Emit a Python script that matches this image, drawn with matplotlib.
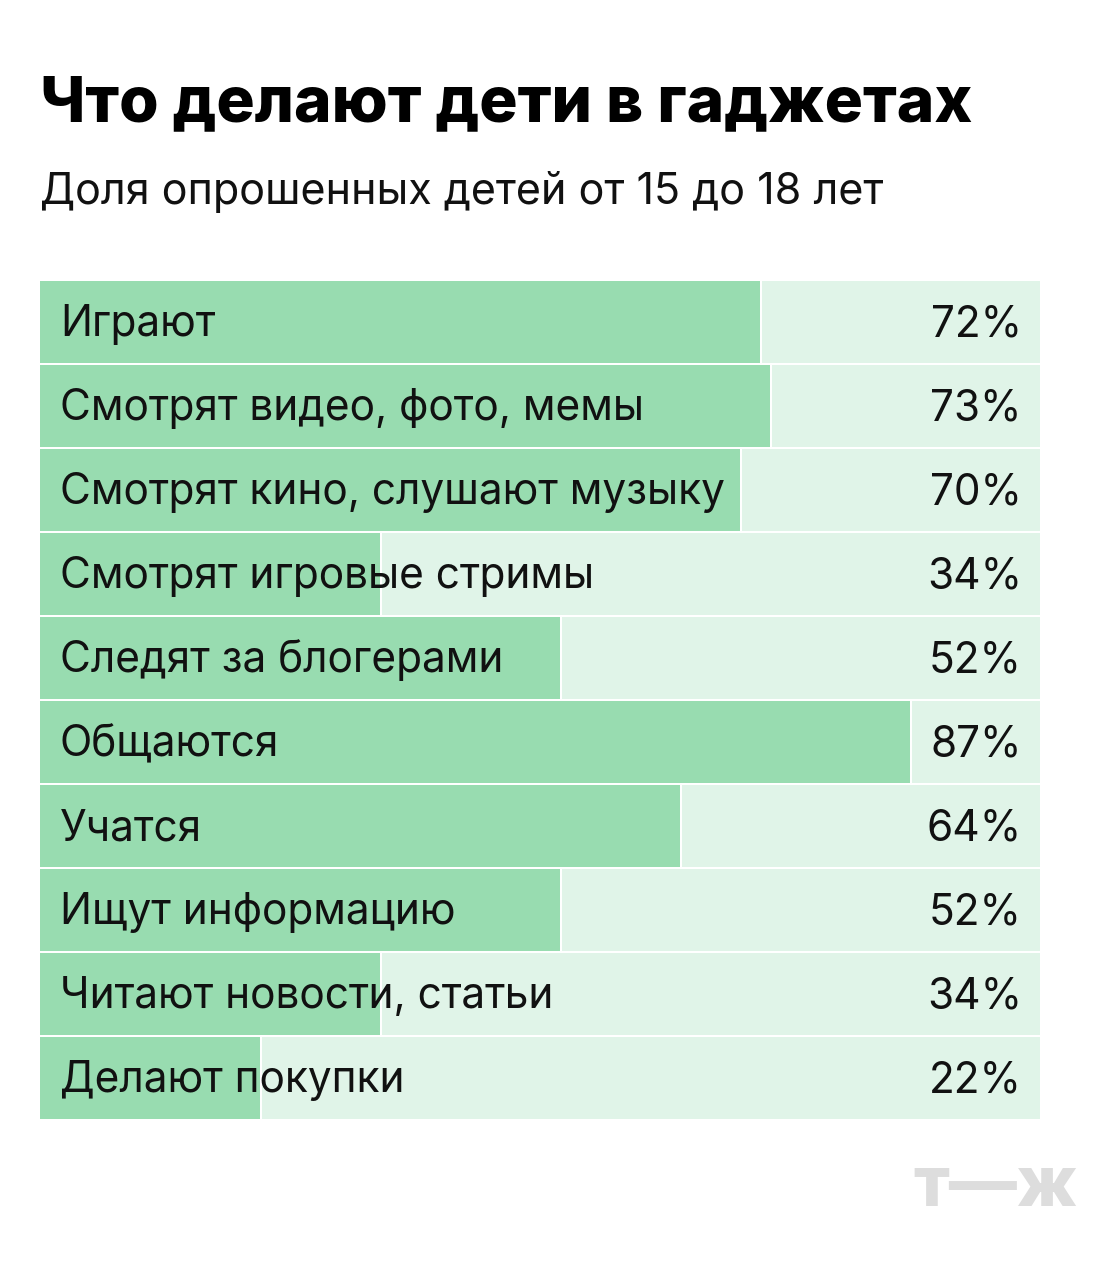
import matplotlib
matplotlib.use('Agg')
import matplotlib.pyplot as plt

# данные
categories = ['Играют', 'Смотрят видео, фото, мемы', 'Смотрят кино, слушают музыку',
              'Смотрят игровые стримы', 'Следят за блогерами', 'Общаются', 'Учатся',
              'Ищут информацию', 'Читают новости, статьи', 'Делают покупки']
values = [72, 73, 70, 34, 52, 87, 64, 52, 34, 22]

title = 'Что делают дети в гаджетах'
subtitle = 'Доля опрошенных детей от 15 до 18 лет'

GREEN = '#98dcb0'
LIGHT = '#e0f4e8'

W, H = 1120, 1288
plt.rcParams['font.family'] = ['Inter', 'DejaVu Sans']

fig = plt.figure(figsize=(W / 100, H / 100), dpi=100)
fig.patch.set_facecolor('white')

# оси: 40..1040 px по x, 281..1121 px по y
ax = fig.add_axes([40 / W, 1 - 1121 / H, 1000 / W, 840 / H])
n = len(categories)
ax.set_xlim(0, 100)
ax.set_ylim(n - 0.5, -0.5)
ax.axis('off')

h = 82 / 84
gap = 0.2
for i, (cat, v) in enumerate(zip(categories, values)):
    ax.barh(i - 0.5, v, height=h, left=0, align='edge', color=GREEN, linewidth=0)
    ax.barh(i - 0.5, 100 - v - gap, height=h, left=v + gap, align='edge', color=LIGHT, linewidth=0)
    ax.text(2.0, i + 0.155, cat, fontsize=30.5, va='baseline', ha='left', color='#111111')
    ax.text(98.2, i + 0.155, f'{v}%', fontsize=30.5, va='baseline', ha='right', color='#111111')

fig.text(40 / W, 1 - 121 / H, title, fontsize=46, fontweight='heavy', va='baseline', ha='left', color='black')
fig.text(40 / W, 1 - 204 / H, subtitle, fontsize=31, va='baseline', ha='left', color='#111111')

# логотип
fig.text(1078 / W, 1 - 1206 / H, 'т—ж', fontsize=49, fontweight='heavy', va='baseline', ha='right', color='#dddddd')

plt.savefig('out.png', dpi=100)
